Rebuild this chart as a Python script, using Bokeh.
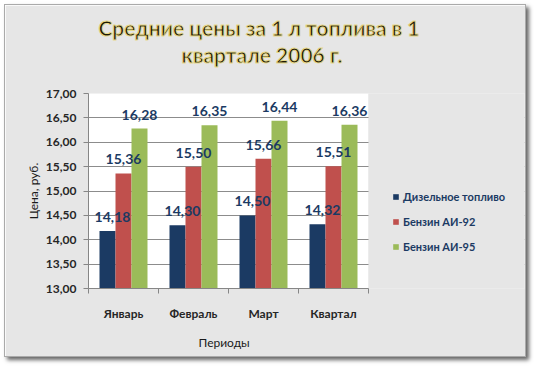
import numpy as np
from bokeh.plotting import figure
from bokeh.models import (ColumnDataSource, FixedTicker, LabelSet, Legend, LegendItem, Title,
                          BoxAnnotation)
from bokeh.core.properties import value
from bokeh.embed import file_html
from bokeh.resources import INLINE

# ---- data ----
periods = ["Январь", "Февраль", "Март", "Квартал"]
series_names = ["Дизельное топливо", "Бензин АИ-92", "Бензин АИ-95"]
diesel = [14.18, 14.30, 14.50, 14.32]
ai92 = [15.36, 15.50, 15.66, 15.51]
ai95 = [16.28, 16.35, 16.44, 16.36]
y_ticks = [13.0, 13.5, 14.0, 14.5, 15.0, 15.5, 16.0, 16.5, 17.0]
title_lines = ["Средние цены за 1 л топлива в 1", "квартале 2006 г."]
y_title = "Цена, руб."
x_title = "Периоды"

colors = ["#1B3A63", "#C0504D", "#9BBB59"]
label_color = "#1B3A63"
FONT = "Lato"
BG = "#e6e6e6"

# layout: plot area 280px wide for the categories, the frame continues to hold the legend
W, H = 522, 353
BL, BR = 83, 3
cat_px = 280.0
frame_w = W - BL - BR
y0, y1 = y_ticks[0], y_ticks[-1]
n = len(periods)
x_end = n * frame_w / cat_px

p = figure(width=W, height=H, x_range=(0, x_end), y_range=(y0, y1),
           output_backend="svg", toolbar_location=None,
           min_border_left=BL, min_border_right=BR, min_border_top=88, min_border_bottom=65)
p.margin = (4, 0, 0, 4)
p.border_fill_color = BG
p.background_fill_color = BG
p.outline_line_color = None
p.styles = {"box-shadow": "3px 3px 4px #666", "border": "1px solid #aaa"}

# white plot area, and the area right of it kept free of grid lines
p.add_layout(BoxAnnotation(left=0, right=n, bottom=y0, top=y1, fill_color="white",
                           fill_alpha=1, line_color=None, level="image"))

bw = 0.2286
centers = np.arange(n) + 0.5
offsets = [-bw, 0.0, bw]
items = []
for i, (vals, col) in enumerate(zip([diesel, ai92, ai95], colors)):
    src = ColumnDataSource(dict(x=centers + offsets[i], top=vals,
                                txt=[f"{v:.2f}".replace(".", ",") for v in vals]))
    r = p.vbar(x="x", top="top", bottom=y0, width=bw, source=src,
               fill_color=col, line_color=None)
    items.append(LegendItem(label=series_names[i], renderers=[r]))
    p.add_layout(LabelSet(x="x", y="top", text="txt", source=src,
                          x_offset=5 if i == 0 else 0, y_offset=9,
                          text_align="center", text_baseline="alphabetic",
                          text_font=value(FONT), text_font_size="14px", text_font_style="bold",
                          text_color=label_color))

# axes
p.xgrid.grid_line_color = None
p.ygrid.grid_line_color = "#8c8c8c"
p.ygrid.ticker = FixedTicker(ticks=y_ticks)
p.add_layout(BoxAnnotation(left=n, fill_color=BG, fill_alpha=1, line_color=None,
                           level="underlay"))
p.yaxis.ticker = FixedTicker(ticks=y_ticks)
p.yaxis.major_label_overrides = {t: f"{t:.2f}".replace(".", ",") for t in y_ticks}
p.xaxis.ticker = FixedTicker(ticks=list(centers), minor_ticks=list(range(n + 1)))
p.xaxis.major_label_overrides = {float(c): nm for c, nm in zip(centers, periods)}
p.xaxis.bounds = (0, n)
for ax in (p.xaxis, p.yaxis):
    ax.axis_line_color = "#868686"
    ax.major_tick_line_color = "#868686"
    ax.minor_tick_line_color = "#868686"
    ax.major_label_text_font = FONT
    ax.major_label_text_font_style = "bold"
    ax.major_label_text_font_size = "12px"
    ax.major_label_text_color = "#262626"
    ax.axis_label_text_font = FONT
    ax.axis_label_text_font_style = "normal"
    ax.axis_label_text_font_size = "12px"
    ax.axis_label_text_color = "#1a1a1a"
p.yaxis.major_tick_in = 0
p.yaxis.major_tick_out = 5
p.yaxis.minor_tick_line_color = None
p.yaxis.major_label_standoff = 7
p.xaxis.major_tick_in = 0
p.xaxis.major_tick_out = 0
p.xaxis.minor_tick_in = 0
p.xaxis.minor_tick_out = 5
p.xaxis.major_label_standoff = 12
p.yaxis.axis_label = y_title
p.yaxis.axis_label_standoff = 2

# x axis title, centred under the category area
p.add_layout(Title(text=x_title, align="left", offset=110, text_font=FONT,
                   text_font_size="12px", text_font_style="normal", text_color="#1a1a1a",
                   standoff=18), "below")

legend = Legend(items=items, location=(304, 35), orientation="vertical",
                label_text_font=FONT, label_text_font_size="11px", label_text_font_style="bold",
                label_text_color=label_color, glyph_width=7, glyph_height=7,
                label_standoff=4, spacing=12, padding=0, margin=0,
                border_line_color=None, background_fill_alpha=0)
p.add_layout(legend, "center")

# titles (added from the plot outwards)
spacer = Title(text=" ", text_font_size="10px", standoff=14)
t2 = Title(text=title_lines[1], align="left", offset=93, text_font=FONT, text_font_size="21px",
           text_font_style="bold", text_color="#1c1a05", standoff=0,
           text_outline_color="#e6d88a")
t1 = Title(text=title_lines[0], align="left", offset=10, text_font=FONT, text_font_size="21px",
           text_font_style="bold", text_color="#1c1a05", standoff=0,
           text_outline_color="#e6d88a")
p.add_layout(spacer, "above")
p.add_layout(t2, "above")
p.add_layout(t1, "above")

open("out.html", "w").write(file_html(p, INLINE))
